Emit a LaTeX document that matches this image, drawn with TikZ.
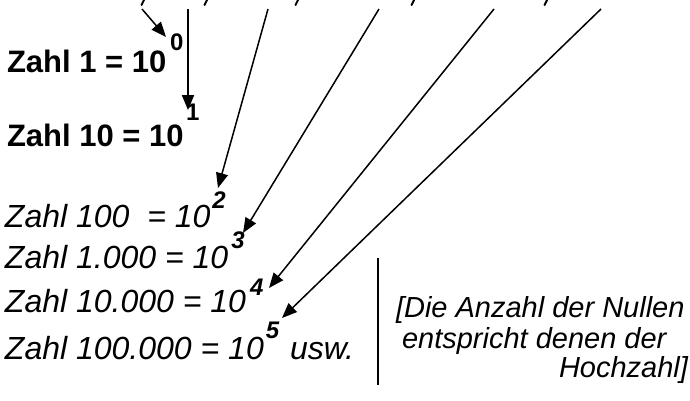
\documentclass[tikz,border=0pt]{standalone}
\usepackage{fontspec}
\setmainfont{Liberation Sans}
\usetikzlibrary{arrows.meta,calc}

\begin{document}
\begin{tikzpicture}[x=1pt,y=-1pt,
  txt/.style={anchor=base west, inner sep=0pt, outer sep=0pt},
  boldrow/.style={txt, font=\fontsize{31}{37}\selectfont\bfseries},
  itrow/.style={txt, font=\fontsize{32}{38}\selectfont\itshape},
  supb/.style={txt, font=\fontsize{24}{28}\selectfont\bfseries},
  supi/.style={txt, font=\fontsize{24}{28}\selectfont\bfseries\itshape},
  note/.style={txt, font=\fontsize{29}{34}\selectfont\itshape},
  ptr/.style={line width=1.5pt, -{Triangle[length=15pt,width=12pt]}},
  tail/.style={line width=2pt, line cap=round}
]
\useasboundingbox (0,0) rectangle (690,400);

% powers of ten, one row each
\node[boldrow] (r0) at (7,72)  {Zahl 1 = 10};
\node[supb]    (e0) at (170,50) {0};
\node[boldrow] (r1) at (7,146) {Zahl 10 = 10};
\node[supb]    (e1) at (186,120) {1};

\node[itrow] (r2) at (5,227) {Zahl 100\ \ = 10};
\node[supi]  (e2) at ($(r2.base east)+(2,-19)$) {2};
\node[itrow] (r3) at (5,268) {Zahl 1.000 = 10};
\node[supi]  (e3) at ($(r3.base east)+(3,-20)$) {3};
\node[itrow] (r4) at (5,312) {Zahl 10.000 = 10};
\node[supi]  (e4) at ($(r4.base east)+(4,-17)$) {4};
\node[itrow] (r5) at (5,359) {Zahl 100.000 = 10};
\node[supi]  (e5) at ($(r5.base east)+(2,-21)$) {5};
\node[itrow] (usw) at (290,359) {usw.};

% side remark
\draw[line width=1.2pt] (378,258) -- (378,385);
\node[note] (n1) at (396,317) {[Die Anzahl der Nullen};
\node[note] (n2) at (402,348) {entspricht denen der};
\node[note, anchor=base east] (n3) at (688,377) {Hochzahl]};

% comma tails of the number list above
\foreach \cx in {143,206,297,413,546}
  \draw[tail] (\cx+1,0) -- (\cx-1.5,5);

% pointers from the number list to the exponents
\coordinate (s0) at (142,9);  \coordinate (t0) at (166,37);
\coordinate (s1) at (188,9);  \coordinate (t1) at (188,110);
\coordinate (s2) at (268,9);  \coordinate (t2) at (218,188);
\coordinate (s3) at (379,9);  \coordinate (t3) at (243,233);
\coordinate (s4) at (494,9);  \coordinate (t4) at (269,288);
\coordinate (s5) at (601,9);  \coordinate (t5) at (282,318);

\draw[ptr] (s0) -- (t0);
\draw[ptr, line width=2pt] (s1) -- (t1);
\draw[ptr] (s2) -- (t2);
\draw[ptr] (s3) -- (t3);
\draw[ptr] (s4) -- (t4);
\draw[ptr] (s5) -- (t5);
\end{tikzpicture}
\end{document}
